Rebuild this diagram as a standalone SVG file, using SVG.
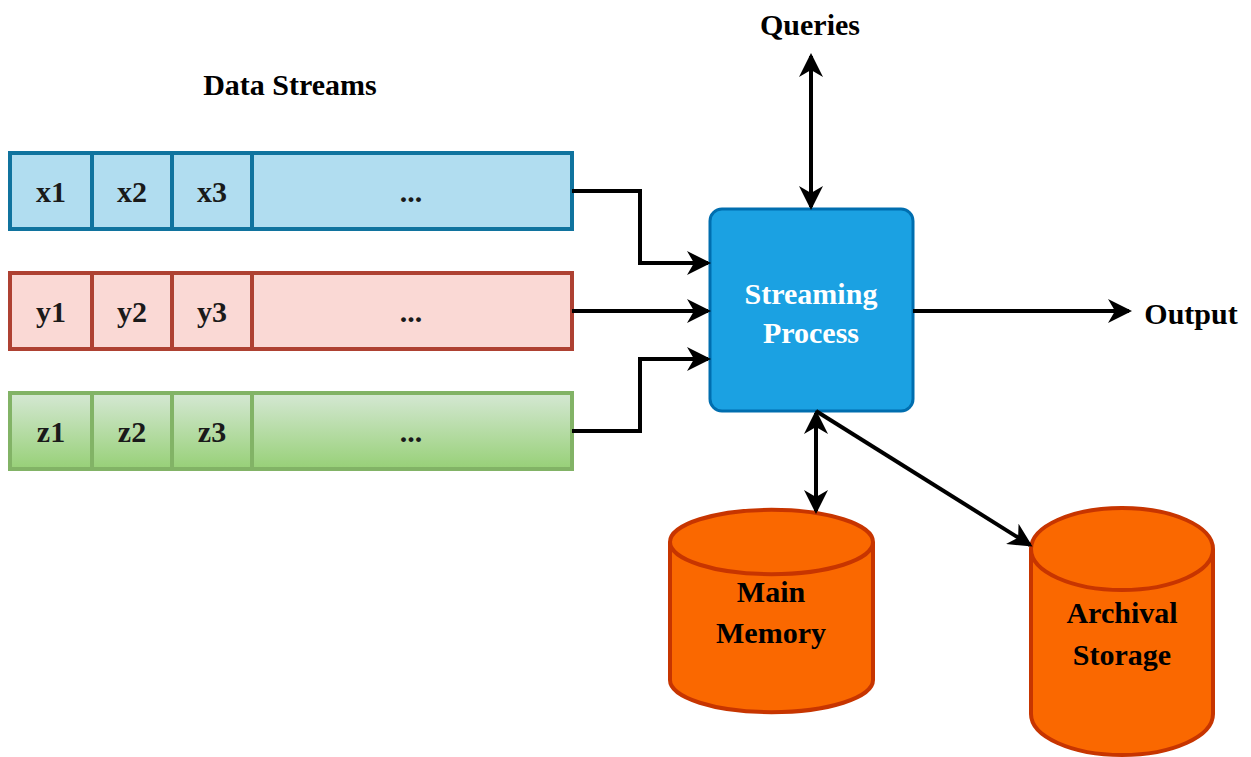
<svg xmlns="http://www.w3.org/2000/svg" width="1251" height="757" viewBox="0 0 1251 757">
<style>
text{font-family:"Liberation Serif","Times New Roman",serif;font-weight:bold;text-anchor:middle}
.lbl{font-size:30px;fill:#000}
.cell{font-size:30px;fill:#1a1a1a}
.blue{fill:#b1ddf0;stroke:#10739e;stroke-width:4}
.red{fill:#fad9d5;stroke:#ae4132;stroke-width:4}
.green{fill:url(#gg);stroke:#82b366;stroke-width:4}
.conn{fill:none;stroke:#000;stroke-width:4}
.cyl{fill:#fa6800;stroke:#c73500;stroke-width:4}
</style>
<defs>
<linearGradient id="gg" x1="0" y1="0" x2="0" y2="1"><stop offset="0" stop-color="#d5e8d4"/><stop offset="1" stop-color="#97d077"/></linearGradient>
<marker id="ah" viewBox="0 0 24 24" refX="21" refY="12" markerWidth="24" markerHeight="24" markerUnits="userSpaceOnUse" orient="auto-start-reverse">
<path d="M0,0 L24,12 L0,24 L7,12 Z" fill="#000"/>
</marker>
</defs>
<text class="lbl" x="290" y="95">Data Streams</text>
<g id="streamX">
<rect class="blue" x="10" y="153" width="562" height="76"/>
<line class="blue" x1="92" y1="153" x2="92" y2="229"/><line class="blue" x1="172" y1="153" x2="172" y2="229"/><line class="blue" x1="252" y1="153" x2="252" y2="229"/>
<text class="cell" x="51" y="202">x1</text><text class="cell" x="132" y="202">x2</text><text class="cell" x="212" y="202">x3</text><text class="cell" x="411" y="202">...</text>
</g>
<g id="streamY">
<rect class="red" x="10" y="273" width="562" height="76"/>
<line class="red" x1="92" y1="273" x2="92" y2="349"/><line class="red" x1="172" y1="273" x2="172" y2="349"/><line class="red" x1="252" y1="273" x2="252" y2="349"/>
<text class="cell" x="51" y="322">y1</text><text class="cell" x="132" y="322">y2</text><text class="cell" x="212" y="322">y3</text><text class="cell" x="411" y="322">...</text>
</g>
<g id="streamZ">
<rect class="green" x="10" y="393" width="562" height="76"/>
<line class="green" x1="92" y1="393" x2="92" y2="469"/><line class="green" x1="172" y1="393" x2="172" y2="469"/><line class="green" x1="252" y1="393" x2="252" y2="469"/>
<text class="cell" x="51" y="442">z1</text><text class="cell" x="132" y="442">z2</text><text class="cell" x="212" y="442">z3</text><text class="cell" x="411" y="442">...</text>
</g>
<g id="process">
<rect x="710" y="209" width="203" height="202" rx="12" fill="#1ba1e2" stroke="#006eaf" stroke-width="3"/>
<text x="811" y="304" font-size="30" fill="#fff">Streaming</text>
<text x="811" y="343" font-size="30" fill="#fff">Process</text>
</g>
<g id="queries"><text class="lbl" x="810" y="35">Queries</text></g>
<g id="output"><text class="lbl" x="1191" y="324">Output</text></g>
<g id="mainMemory">
<path class="cyl" d="M670,542 A101,32 0 0 1 873,542 L873,680 A101,32 0 0 1 670,680 Z"/>
<path class="cyl" fill="none" d="M670,542 A101,32 0 0 0 873,542"/>
<text class="lbl" x="771" y="602">Main</text>
<text class="lbl" x="771" y="643">Memory</text>
</g>
<g id="archival">
<path class="cyl" d="M1031,549 A91,41 0 0 1 1213,549 L1213,714 A91,41 0 0 1 1031,714 Z"/>
<path class="cyl" fill="none" d="M1031,549 A91,41 0 0 0 1213,549"/>
<text class="lbl" x="1122" y="623">Archival</text>
<text class="lbl" x="1122" y="665">Storage</text>
</g>
<g id="connectors">
<path class="conn" d="M572,191 H640 V263 H708" marker-end="url(#ah)"/>
<path class="conn" d="M572,311 H708" marker-end="url(#ah)"/>
<path class="conn" d="M572,431 H640 V359 H708" marker-end="url(#ah)"/>
<path class="conn" d="M811,56 V207" marker-start="url(#ah)" marker-end="url(#ah)"/>
<path class="conn" d="M913,311 H1129" marker-end="url(#ah)"/>
<path class="conn" d="M816,413 V511" marker-start="url(#ah)" marker-end="url(#ah)"/>
<path class="conn" d="M816,411 L1030,545" marker-end="url(#ah)"/>
</g>
</svg>
